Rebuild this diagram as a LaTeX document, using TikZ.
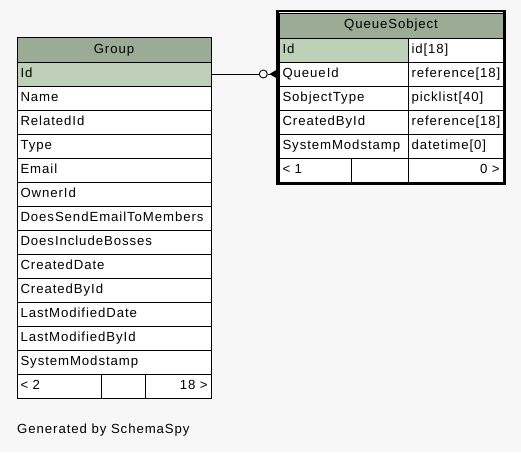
\documentclass[tikz,border=0pt]{standalone}
\usepackage{fontspec}
\setmainfont{Liberation Sans}[LetterSpace=7]
\definecolor{bgc}{HTML}{F7F7F7}
\definecolor{hdr}{HTML}{9BAB96}
\definecolor{pkc}{HTML}{BED1B8}
\begin{document}
\begin{tikzpicture}[x=1pt,y=-1pt,
  cell/.style={draw=black, line width=0.9pt, anchor=north west, fill=white,
    minimum height=24pt, inner xsep=3.5pt, inner ysep=0pt, outer sep=0pt,
    text height=9.5pt, text depth=2.5pt, align=left, font=\fontsize{13.2}{15}\selectfont},
  hcell/.style={cell, fill=hdr, minimum height=25pt, align=center},
  pk/.style={fill=pkc},
  rcell/.style={align=right}]
\useasboundingbox[fill=bgc] (0,0) rectangle (521,452);
% Group table
\node[hcell, text width=187pt] (gh) at (17,37) {Group};
\foreach \t [count=\i] in {Id,Name,RelatedId,Type,Email,OwnerId,DoesSendEmailToMembers,DoesIncludeBosses,CreatedDate,CreatedById,LastModifiedDate,LastModifiedById,SystemModstamp}{
  \node[cell, text width=187pt] (g\i) at (17,{62+24*(\i-1)}) {\t};
}
\node[cell, pk, text width=187pt] (gpk) at (17,62) {Id};
\node[cell, text width=77pt] (gf1) at (17,374) {< 2};
\node[cell, text width=37pt] (gf2) at (101,374) {};
\node[cell, rcell, text width=59pt] (gf3) at (145,374) {18 >};
% QueueSobject table
\node[hcell, text width=217pt] (qh) at (279,13) {QueueSobject};
\foreach \a/\b [count=\i] in {Id/{id[18]},QueueId/{reference[18]},SobjectType/{picklist[40]},CreatedById/{reference[18]},SystemModstamp/{datetime[0]}}{
  \node[cell, text width=122pt] (qa\i) at (279,{38+24*(\i-1)}) {\a};
  \node[cell, text width=88pt] (qb\i) at (408,{38+24*(\i-1)}) {\b};
}
\node[cell, pk, text width=122pt] (qpk) at (279,38) {Id};
\node[cell, text width=65pt] (qf1) at (279,158) {< 1};
\node[cell, text width=50pt] (qf2) at (351,158) {};
\node[cell, rcell, text width=88pt] (qf3) at (408,158) {0 >};
\draw[line width=2.4pt] (277.5,11) rectangle (504.5,183.5);
% connector
\node[draw=black, line width=0.9pt, circle, fill=bgc, minimum size=8pt, inner sep=0pt] (circ) at (263.3,74) {};
\draw[line width=0.9pt] (gpk.east) -- (circ.west);
\coordinate (cf) at (269.5,74);
\fill[black] (cf) -- (277,69.5) -- (277,73) -- (277,75) -- (277,78.5) -- cycle;
\draw[line width=0.9pt] (circ.east) -- (qa2.west);
% footer text
\node[anchor=base west, inner sep=0pt, font=\fontsize{13.2}{15}\selectfont] (gen) at (17,433) {Generated by SchemaSpy};
\end{tikzpicture}
\end{document}
